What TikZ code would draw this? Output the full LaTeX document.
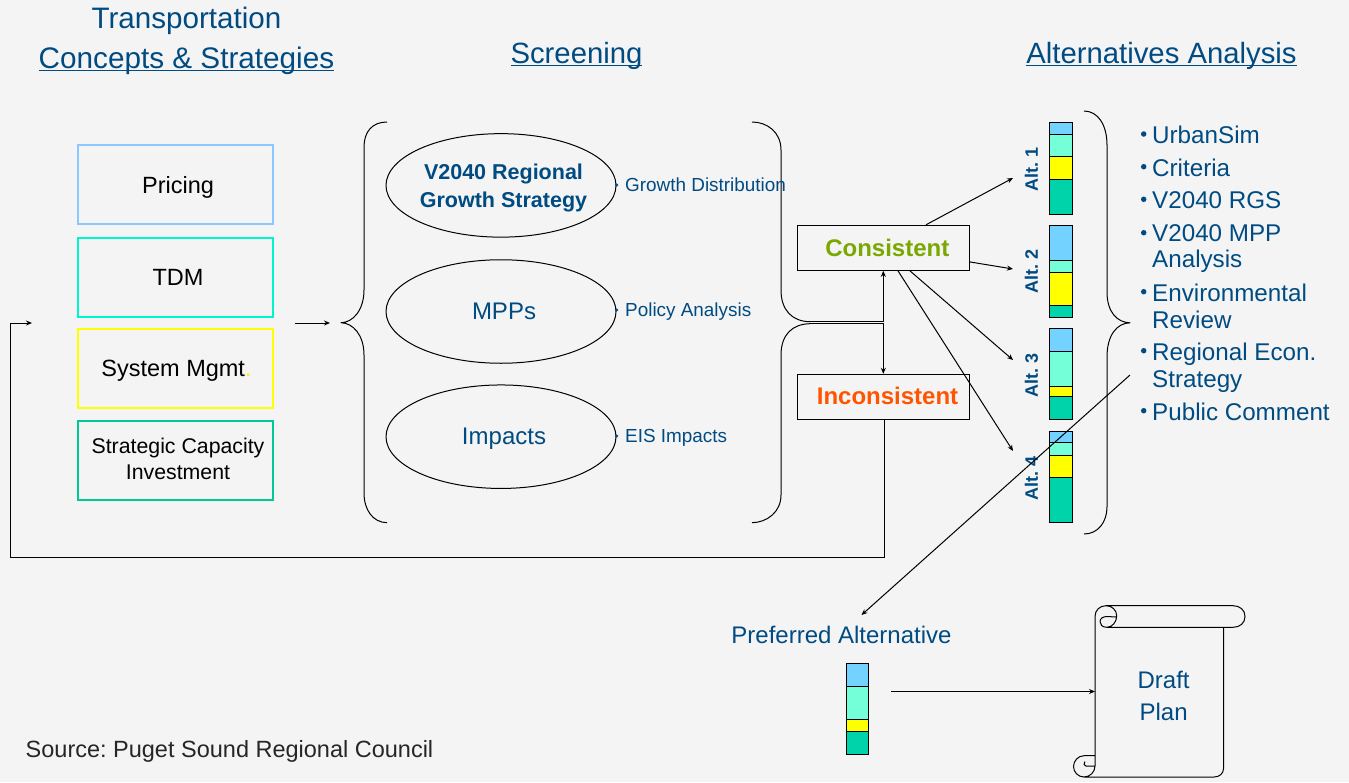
\documentclass[tikz,border=0pt]{standalone}
\usepackage{fontspec}
\setmainfont{Liberation Sans}
\usetikzlibrary{arrows.meta,shapes.geometric}
\frenchspacing
\definecolor{bgc}{HTML}{F4F4F4}
\definecolor{navy}{HTML}{004B82}
\definecolor{bluebar}{HTML}{73D2FF}
\definecolor{mintbar}{HTML}{75FFD8}
\definecolor{yelbar}{HTML}{FFFF00}
\definecolor{tealbar}{HTML}{00D2AA}
\definecolor{okgreen}{HTML}{7BA800}
\definecolor{badorange}{HTML}{FF5500}
\definecolor{cbA}{HTML}{8AC8FF}
\definecolor{cbB}{HTML}{00F5CC}
\definecolor{cbC}{HTML}{FFFF00}
\definecolor{cbD}{HTML}{00C896}
\newcommand{\fsz}[1]{\fontsize{#1}{#1}\selectfont}
\newcommand{\ultext}[1]{\setbox0\hbox{#1}\rlap{\rule[-3pt]{\wd0}{1.2pt}}\box0 }
\tikzset{
  x=1pt,y=-1pt,
  headtxt/.style={text=navy,font=\fsz{29.3},inner sep=0pt,anchor=base},
  cbox/.style={draw=#1,line width=2pt,fill=none,inner sep=0pt,minimum width=195pt,minimum height=79pt},
  boxtxt/.style={text=black,inner sep=0pt,anchor=base},
  oval/.style={draw=black,line width=1pt,ellipse,minimum width=230pt,minimum height=103.5pt,inner sep=0pt},
  ovaltxt/.style={text=navy,font=\fsz{24},inner sep=0pt,anchor=base},
  smalltxt/.style={text=navy,font=\fsz{18.9},inner sep=0pt,anchor=base west},
  smalldot/.style={circle,fill=navy,minimum size=3.5pt,inner sep=0pt},
  resbox/.style={draw=black,line width=1pt,minimum width=172pt,minimum height=45pt,inner sep=0pt},
  restxt/.style={font=\bfseries\fsz{24},inner sep=0pt,anchor=base},
  altlab/.style={text=navy,font=\bfseries\fsz{18},rotate=90,inner sep=0pt},
  listtxt/.style={text=navy,font=\fsz{24.2},inner sep=0pt,anchor=base west},
  listdot/.style={circle,fill=navy,minimum size=5.5pt,inner sep=0pt},
  brace/.style={line width=1pt,draw=black,line join=round},
  link/.style={line width=1pt,draw=black},
  arr/.style={link,-{Stealth[length=6pt,width=5pt]}},
  seg/.style={draw=black,line width=1pt,fill=#1},
}
\newcommand{\altbar}[7]{%
  \path[seg=bluebar] (#1,#2) rectangle (#7,#3);
  \path[seg=mintbar] (#1,#3) rectangle (#7,#4);
  \path[seg=yelbar] (#1,#4) rectangle (#7,#5);
  \path[seg=tealbar] (#1,#5) rectangle (#7,#6);
}
\begin{document}
\begin{tikzpicture}
\useasboundingbox (0,0) rectangle (1349,782);
\fill[bgc] (0,0) rectangle (1349,782);

% headings
\node[headtxt,font=\fsz{29.6}] (h1a) at (186.5,28) {Transportation};
\node[headtxt,font=\fsz{29.7}] (h1b) at (186.5,68) {\ultext{Concepts \& Strategies}};
\node[headtxt] (h2) at (576.5,63) {\ultext{Screening}};
\node[headtxt] (h3) at (1161.5,63) {\ultext{Alternatives Analysis}};

% concept boxes
\node[cbox=cbA] (pricing) at (175.5,184.8) {};
\node[cbox=cbB] (tdm) at (175.5,277.3) {};
\node[cbox=cbC] (sysm) at (175.5,368.3) {};
\node[cbox=cbD] (sci) at (175.5,460) {};
\node[boxtxt,font=\fsz{23.5}] (tpricing) at (178,193.5) {Pricing};
\node[boxtxt,font=\fsz{23.5}] (ttdm) at (178,285) {TDM};
\node[boxtxt,font=\fsz{23.5}] (tsys) at (176.5,376) {System Mgmt{\color{yellow}.}};
\node[boxtxt,font=\fsz{21.3}] (tsci) at (178,453) {Strategic Capacity};
\node[boxtxt,font=\fsz{21.3}] (tsci2) at (178,479) {Investment};

% screening brace left
\draw[brace] (387,122) .. controls (372,122) and (364,132) .. (364,147)
  -- (364,290) .. controls (364,310) and (353,322.5) .. (341,322.7)
  .. controls (353,323) and (364,335) .. (364,355)
  -- (364,493) .. controls (364,510) and (373,522.5) .. (387,522.7);
% screening brace right
\draw[brace] (752,122) .. controls (767,122) and (781,132) .. (781,150)
  -- (781,290) .. controls (781,310) and (792,321.5) .. (810,321.7);
\draw[brace] (810,323.7) .. controls (792,324) and (781,335) .. (781,355)
  -- (781,495) .. controls (781,512) and (767,522.5) .. (752,522.7);

% ovals
\node[oval] (o1) at (501,185.4) {};
\node[oval] (o2) at (501,311.5) {};
\node[oval] (o3) at (501,436.7) {};
\node[ovaltxt,font=\bfseries\fsz{21.5}] (to1a) at (503.5,179.5) {V2040 Regional};
\node[ovaltxt,font=\bfseries\fsz{21.5}] (to1b) at (503.5,207.5) {Growth Strategy};
\node[ovaltxt] (to2) at (504,319) {MPPs};
\node[ovaltxt] (to3) at (504,444) {Impacts};

\node[smalldot] (d1) at (616.5,185) {};
\node[smalldot] (d2) at (616.5,310) {};
\node[smalldot] (d3) at (616.5,436) {};
\node[smalltxt] (s1) at (625,191) {Growth Distribution};
\node[smalltxt] (s2) at (625,316) {Policy Analysis};
\node[smalltxt] (s3) at (625,442) {EIS Impacts};

% result boxes
\node[resbox] (cons) at (883.3,247.8) {};
\node[resbox] (inc) at (883.3,396.8) {};
\node[restxt,text=okgreen] (tcons) at (887.3,256) {Consistent};
\node[restxt,text=badorange] (tinc) at (887.5,404) {Inconsistent};

% bars
\altbar{1049.3}{122.5}{134}{156}{179}{214}{1072.3}
\altbar{1049.3}{225.5}{260}{272}{305}{317}{1072.3}
\altbar{1049.3}{328.5}{351}{386}{396}{419}{1072.3}
\altbar{1049.3}{431.5}{442}{455}{477}{522}{1072.3}
\altbar{846.4}{663.5}{686}{719}{731}{754}{868.4}
\node[altlab] (al1) at (1031.5,169.5) {Alt. 1};
\node[altlab] (al2) at (1031.5,271.5) {Alt. 2};
\node[altlab] (al3) at (1031.5,375) {Alt. 3};
\node[altlab] (al4) at (1031.5,478.5) {Alt. 4};

% alternatives brace
\draw[brace] (1084,111) .. controls (1098,111) and (1107,125) .. (1107,145)
  -- (1107,292) .. controls (1107,312) and (1117,322.5) .. (1130,322.8)
  .. controls (1117,323) and (1107,335) .. (1107,357)
  -- (1107,507) .. controls (1107,522) and (1098,534) .. (1084,534);

% list
\foreach \ny/\by in {a/134,b/166.7,c/199.3,d/232.7,e/291.7,f/350.7,g/410.7}{
  \node[listdot] (bul\ny) at (1143.7,\by) {};
}
\node[listtxt] (l1) at (1152,143.5) {UrbanSim};
\node[listtxt] (l2) at (1152,176) {Criteria};
\node[listtxt] (l3) at (1152,208.3) {V2040 RGS};
\node[listtxt] (l4) at (1152,241.5) {V2040 MPP};
\node[listtxt] (l4b) at (1152,267.5) {Analysis};
\node[listtxt] (l5) at (1152,301.5) {Environmental};
\node[listtxt] (l5b) at (1152,328) {Review};
\node[listtxt] (l6) at (1152,360.5) {Regional Econ.};
\node[listtxt] (l6b) at (1152,387.5) {Strategy};
\node[listtxt] (l7) at (1152,420) {Public Comment};

% preferred + plan text
\node[ovaltxt] (pref) at (841.5,643) {Preferred Alternative};
\node[ovaltxt] (dr1) at (1163.6,688.5) {Draft};
\node[ovaltxt] (dr2) at (1163.6,720.5) {Plan};
\node[ovaltxt,text=black!85,font=\fsz{23.5}] (src) at (229.5,757) {Source: Puget Sound Regional Council};

% scroll
\draw[brace] (1095,616) -- (1095,766)
  (1095,616.5) .. controls (1095,610) and (1100,605.7) .. (1106,605.7)
  -- (1233,605.7) .. controls (1240,605.7) and (1245,610) .. (1245,616.5)
  .. controls (1245,623) and (1240,627.3) .. (1233,627.3) -- (1107,627.3)
  .. controls (1102,627.3) and (1100,624.5) .. (1100,621.5)
  .. controls (1100,618.5) and (1103,616.5) .. (1107,616.5) -- (1116,617)
  (1106,605.7) .. controls (1112,605.7) and (1116.7,610) .. (1116.7,616)
  .. controls (1116.7,622) and (1112,627.3) .. (1107,627.3)
  (1223.6,627.3) -- (1223.6,768) .. controls (1223.6,774) and (1219,777) .. (1214,777)
  -- (1084,777) .. controls (1078,777) and (1073.5,772) .. (1073.5,766.5)
  .. controls (1073.5,761) and (1078,755.7) .. (1084,755.7) -- (1095,755.7)
  (1084,777) .. controls (1090,777) and (1095,772) .. (1095,766)
  -- (1086,766) .. controls (1084,766) and (1083,763.5) .. (1085,761.5);

% connector end points
\coordinate (a1) at (1013,178);
\coordinate (a2) at (1013,269);
\coordinate (a3) at (1013,360);
\coordinate (a4) at (1013,451);
\coordinate (tipA) at (810,321.7);
\coordinate (tipB) at (810,323.7);
\coordinate (retA) at (10.3,557);
\coordinate (retB) at (32,323);
\coordinate (inA) at (295,323);
\coordinate (inB) at (330,323);
\coordinate (listEnd) at (1130,375);
\coordinate (prefEnd) at (861.5,615);
\coordinate (prefOut) at (891,691.5);
\coordinate (scrollIn) at (1095,691.5);

\draw[arr] (cons) -- (a1);
\draw[arr] (cons) -- (a2);
\draw[arr] (cons) -- (a3);
\draw[arr] (cons) -- (a4);
\draw[arr] (tipA) -| (cons.south);
\draw[arr] (tipB) -| (inc.north);
\draw[arr] ([xshift=1pt]inc.south) |- (retA) |- (retB);
\draw[arr] (inA) -- (inB);
\draw[arr] (listEnd) -- (prefEnd);
\draw[arr] (prefOut) -- (scrollIn);
\end{tikzpicture}
\end{document}
